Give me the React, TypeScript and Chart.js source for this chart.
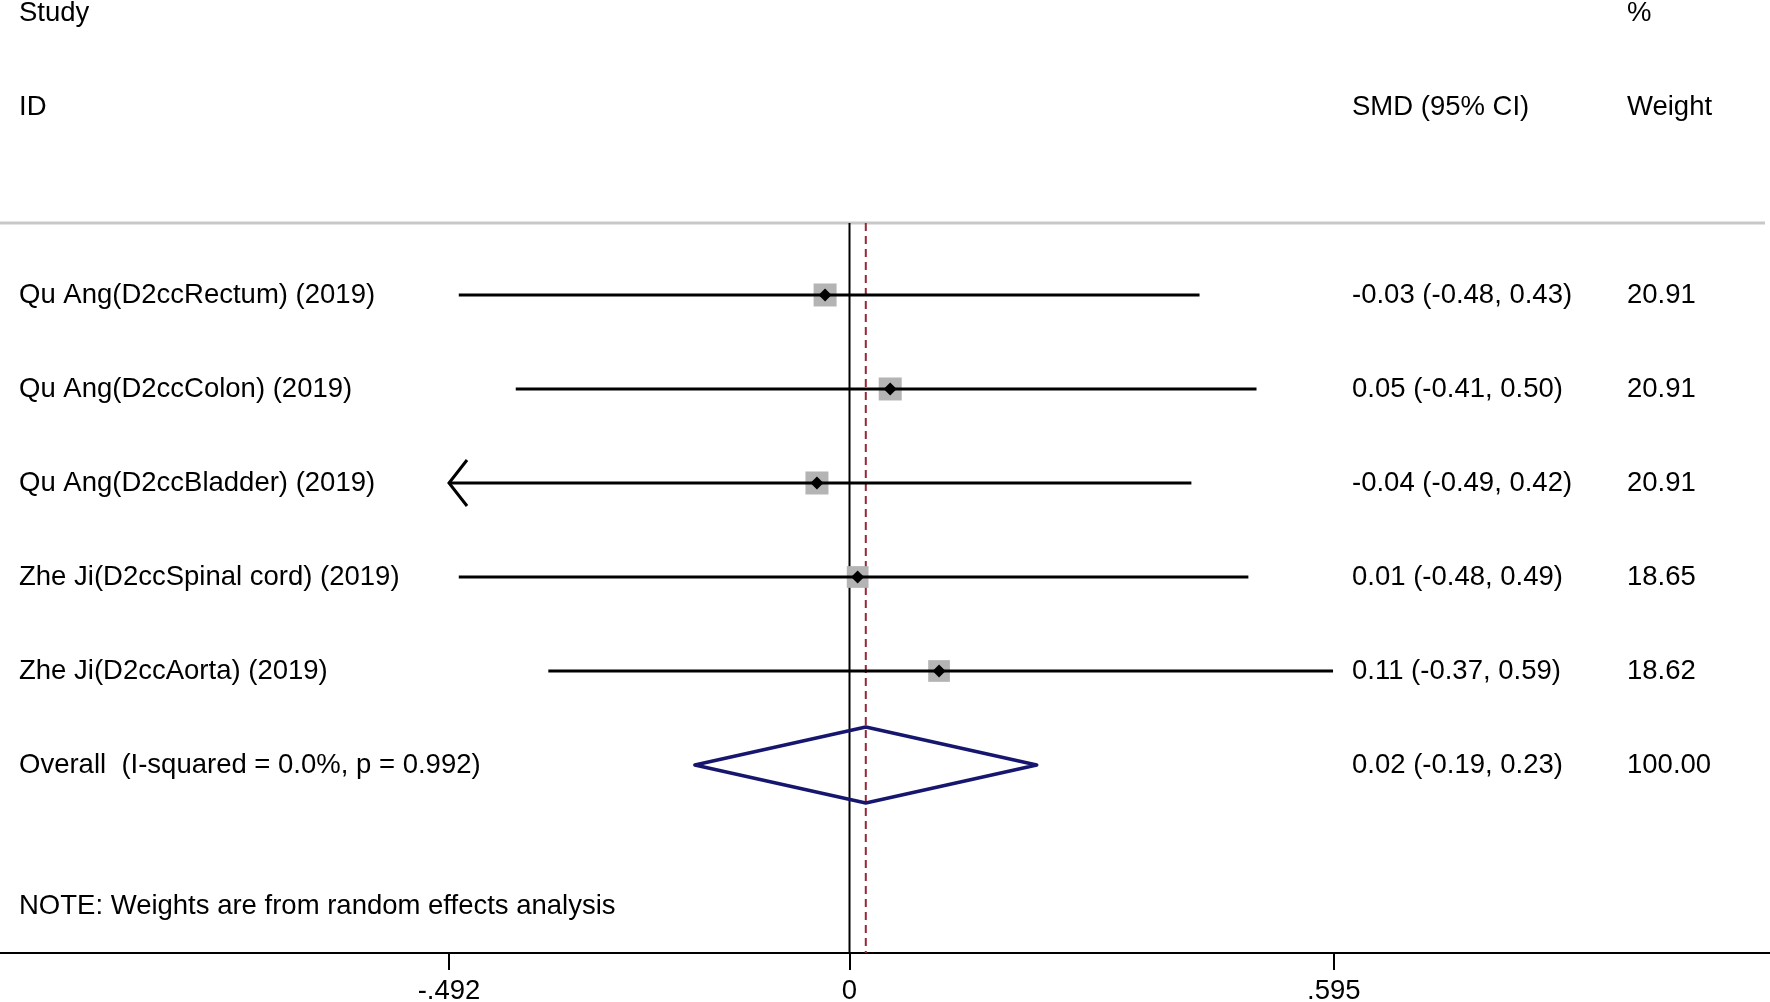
import React, { useEffect, useRef } from 'react';
import { Chart, registerables } from 'chart.js';

Chart.register(...registerables);

// ---------- data ----------
const studyLabels = [
  'Qu Ang(D2ccRectum) (2019)',
  'Qu Ang(D2ccColon) (2019)',
  'Qu Ang(D2ccBladder) (2019)',
  'Zhe Ji(D2ccSpinal cord) (2019)',
  'Zhe Ji(D2ccAorta) (2019)',
];
const smdValues = [-0.03, 0.05, -0.04, 0.01, 0.11];
const ciLower = [-0.48, -0.41, -0.494, -0.48, -0.37];
const ciUpper = [0.43, 0.5, 0.42, 0.49, 0.594];
const weightValues = [20.91, 20.91, 20.91, 18.65, 18.62];

const overallName = 'Overall';
const overallSmd = 0.02;
const overallLower = -0.19;
const overallUpper = 0.23;
const overallWeight = 100.0;
const iSquared = 0.0;
const pValue = 0.992;

const xTickValues = [-0.492, 0, 0.595];

const headerStudyLines = ['Study', 'ID'];
const headerEffect = 'SMD (95% CI)';
const headerWeightLines = ['%', 'Weight'];
const noteText = 'NOTE: Weights are from random effects analysis';

// ---------- styles / layout ----------
const FONT_FAMILY = '"Liberation Sans", Arial, Helvetica, sans-serif';
const FONT_SIZE = 27.5;
const COL_LABEL_X = 19;
const COL_EFFECT_X = 1352;
const COL_WEIGHT_X = 1627;
const SEPARATOR_ROW = -0.766;
const NOTE_ROW = 6.5;
const HEADER_ROWS = [-3, -2];
const BOX_COLOR = '#b4b4b4';
const DIAMOND_COLOR = '#16166e';
const REF_DASH_COLOR = 'rgb(150,40,55)';

const fmt2 = (v: number) => v.toFixed(2);
const fmtTick = (v: number) =>
  v === 0 ? '0' : v.toFixed(3).replace(/^(-?)0\./, '$1.');

const forestPlugin = {
  id: 'forestExtras',
  beforeDatasetsDraw(chart: any) {
    const { ctx, chartArea, scales } = chart;
    const x = scales.x;
    const y = scales.y;
    const sepY = y.getPixelForValue(SEPARATOR_ROW);
    ctx.save();
    // header separator
    ctx.strokeStyle = '#c8c8c8';
    ctx.lineWidth = 3;
    ctx.beginPath();
    ctx.moveTo(chartArea.left, sepY);
    ctx.lineTo(chartArea.right - 5, sepY);
    ctx.stroke();
    // null line
    const x0 = x.getPixelForValue(0);
    ctx.strokeStyle = '#000';
    ctx.lineWidth = 2;
    ctx.beginPath();
    ctx.moveTo(x0, sepY);
    ctx.lineTo(x0, chartArea.bottom);
    ctx.stroke();
    // overall effect dashed line
    const xe = x.getPixelForValue(overallSmd);
    ctx.strokeStyle = REF_DASH_COLOR;
    ctx.setLineDash([8, 5]);
    ctx.beginPath();
    ctx.moveTo(xe, sepY);
    ctx.lineTo(xe, chartArea.bottom);
    ctx.stroke();
    ctx.restore();
  },
  afterDatasetsDraw(chart: any) {
    const { ctx, scales } = chart;
    const x = scales.x;
    const y = scales.y;
    const axMin = xTickValues[0];
    const axMax = xTickValues[xTickValues.length - 1];
    ctx.save();
    ctx.strokeStyle = '#000';
    ctx.lineWidth = 3;
    ctx.lineCap = 'butt';
    // arrows for clipped CIs
    studyLabels.forEach((_, i) => {
      const py = y.getPixelForValue(i);
      if (ciLower[i] < axMin) {
        const px = x.getPixelForValue(axMin);
        ctx.beginPath();
        ctx.moveTo(px + 18, py - 23);
        ctx.lineTo(px, py);
        ctx.lineTo(px + 18, py + 23);
        ctx.stroke();
      }
      if (ciUpper[i] > axMax) {
        const px = x.getPixelForValue(axMax);
        ctx.beginPath();
        ctx.moveTo(px - 18, py - 23);
        ctx.lineTo(px, py);
        ctx.lineTo(px - 18, py + 23);
        ctx.stroke();
      }
    });
    // overall diamond
    const oy = y.getPixelForValue(studyLabels.length);
    const xl = x.getPixelForValue(overallLower);
    const xm = x.getPixelForValue(overallSmd);
    const xr = x.getPixelForValue(overallUpper);
    const h = 38;
    ctx.strokeStyle = DIAMOND_COLOR;
    ctx.lineWidth = 3.5;
    ctx.lineJoin = 'round';
    ctx.beginPath();
    ctx.moveTo(xl, oy);
    ctx.lineTo(xm, oy - h);
    ctx.lineTo(xr, oy);
    ctx.lineTo(xm, oy + h);
    ctx.closePath();
    ctx.stroke();
    ctx.restore();
  },
  afterDraw(chart: any) {
    const { ctx, scales } = chart;
    const y = scales.y;
    ctx.save();
    ctx.fillStyle = '#000';
    ctx.font = `${FONT_SIZE}px ${FONT_FAMILY}`;
    ctx.textAlign = 'left';
    ctx.textBaseline = 'middle';
    const put = (t: string, px: number, row: number) =>
      ctx.fillText(t, px, y.getPixelForValue(row));
    headerStudyLines.forEach((t, k) => put(t, COL_LABEL_X, HEADER_ROWS[k]));
    put(headerEffect, COL_EFFECT_X, HEADER_ROWS[1]);
    headerWeightLines.forEach((t, k) => put(t, COL_WEIGHT_X, HEADER_ROWS[k]));
    studyLabels.forEach((lab, i) => {
      put(lab, COL_LABEL_X, i);
      put(`${fmt2(smdValues[i])} (${fmt2(ciLower[i])}, ${fmt2(ciUpper[i])})`, COL_EFFECT_X, i);
      put(fmt2(weightValues[i]), COL_WEIGHT_X, i);
    });
    const o = studyLabels.length;
    put(`${overallName}  (I-squared = ${iSquared.toFixed(1)}%, p = ${pValue.toFixed(3)})`, COL_LABEL_X, o);
    put(`${fmt2(overallSmd)} (${fmt2(overallLower)}, ${fmt2(overallUpper)})`, COL_EFFECT_X, o);
    put(fmt2(overallWeight), COL_WEIGHT_X, o);
    put(noteText, COL_LABEL_X, NOTE_ROW);
    ctx.restore();
  },
};

export default function App() {
  const canvasRef = useRef<HTMLCanvasElement>(null);

  useEffect(() => {
    document.body.style.margin = '0';
    const canvas = canvasRef.current;
    if (!canvas) return;
    const axMin = xTickValues[0];
    const axMax = xTickValues[xTickValues.length - 1];

    const ciSets = studyLabels.map((lab, i) => ({
      label: lab,
      data: [
        { x: Math.max(ciLower[i], axMin), y: i },
        { x: Math.min(ciUpper[i], axMax), y: i },
      ],
      showLine: true,
      borderColor: '#000',
      borderWidth: 3,
      borderCapStyle: 'butt',
      pointRadius: 0,
      order: 2,
    }));

    const boxSet = {
      label: 'weights',
      data: smdValues.map((v, i) => ({ x: v, y: i })),
      pointStyle: 'rect',
      pointRadius: weightValues.map((w) => (5.03 * Math.sqrt(w)) / Math.SQRT2),
      backgroundColor: BOX_COLOR,
      borderWidth: 0,
      order: 3,
    };

    const pointSet = {
      label: 'estimates',
      data: smdValues.map((v, i) => ({ x: v, y: i })),
      pointStyle: 'rectRot',
      pointRadius: 6.5,
      backgroundColor: '#000',
      borderColor: '#000',
      borderWidth: 0,
      order: 1,
    };

    const chart = new Chart(canvas, {
      type: 'scatter',
      data: { datasets: [...ciSets, boxSet, pointSet] as any },
      options: {
        animation: false,
        responsive: false,
        devicePixelRatio: 1,
        events: [],
        layout: { padding: 0, autoPadding: false },
        plugins: {
          legend: { display: false },
          tooltip: { enabled: false },
          title: { display: false },
        },
        scales: {
          x: {
            type: 'linear',
            position: 'bottom',
            min: -1.0436,
            max: 1.1308,
            afterBuildTicks: (s: any) => {
              s.ticks = xTickValues.map((v) => ({ value: v }));
            },
            afterFit: (s: any) => {
              s.height = 49;
            },
            ticks: {
              color: '#000',
              font: { family: FONT_FAMILY, size: FONT_SIZE },
              padding: 5,
              maxRotation: 0,
              autoSkip: false,
              callback: (v: any) => fmtTick(Number(v)),
            },
            grid: {
              display: true,
              drawOnChartArea: false,
              drawTicks: true,
              tickLength: 17,
              tickWidth: 2,
              tickColor: '#000',
              color: '#000',
              lineWidth: 2,
            },
            border: { display: true, color: '#000', width: 2 },
          },
          y: {
            type: 'linear',
            display: false,
            min: -3.138,
            max: 7,
            reverse: true,
          },
        },
      } as any,
      plugins: [forestPlugin],
    });

    return () => chart.destroy();
  }, []);

  return (
    <div style={{ position: 'absolute', left: 0, top: 0, width: 1770, height: 1002 }}>
      <canvas ref={canvasRef} width={1770} height={1002} style={{ display: 'block' }} />
    </div>
  );
}
